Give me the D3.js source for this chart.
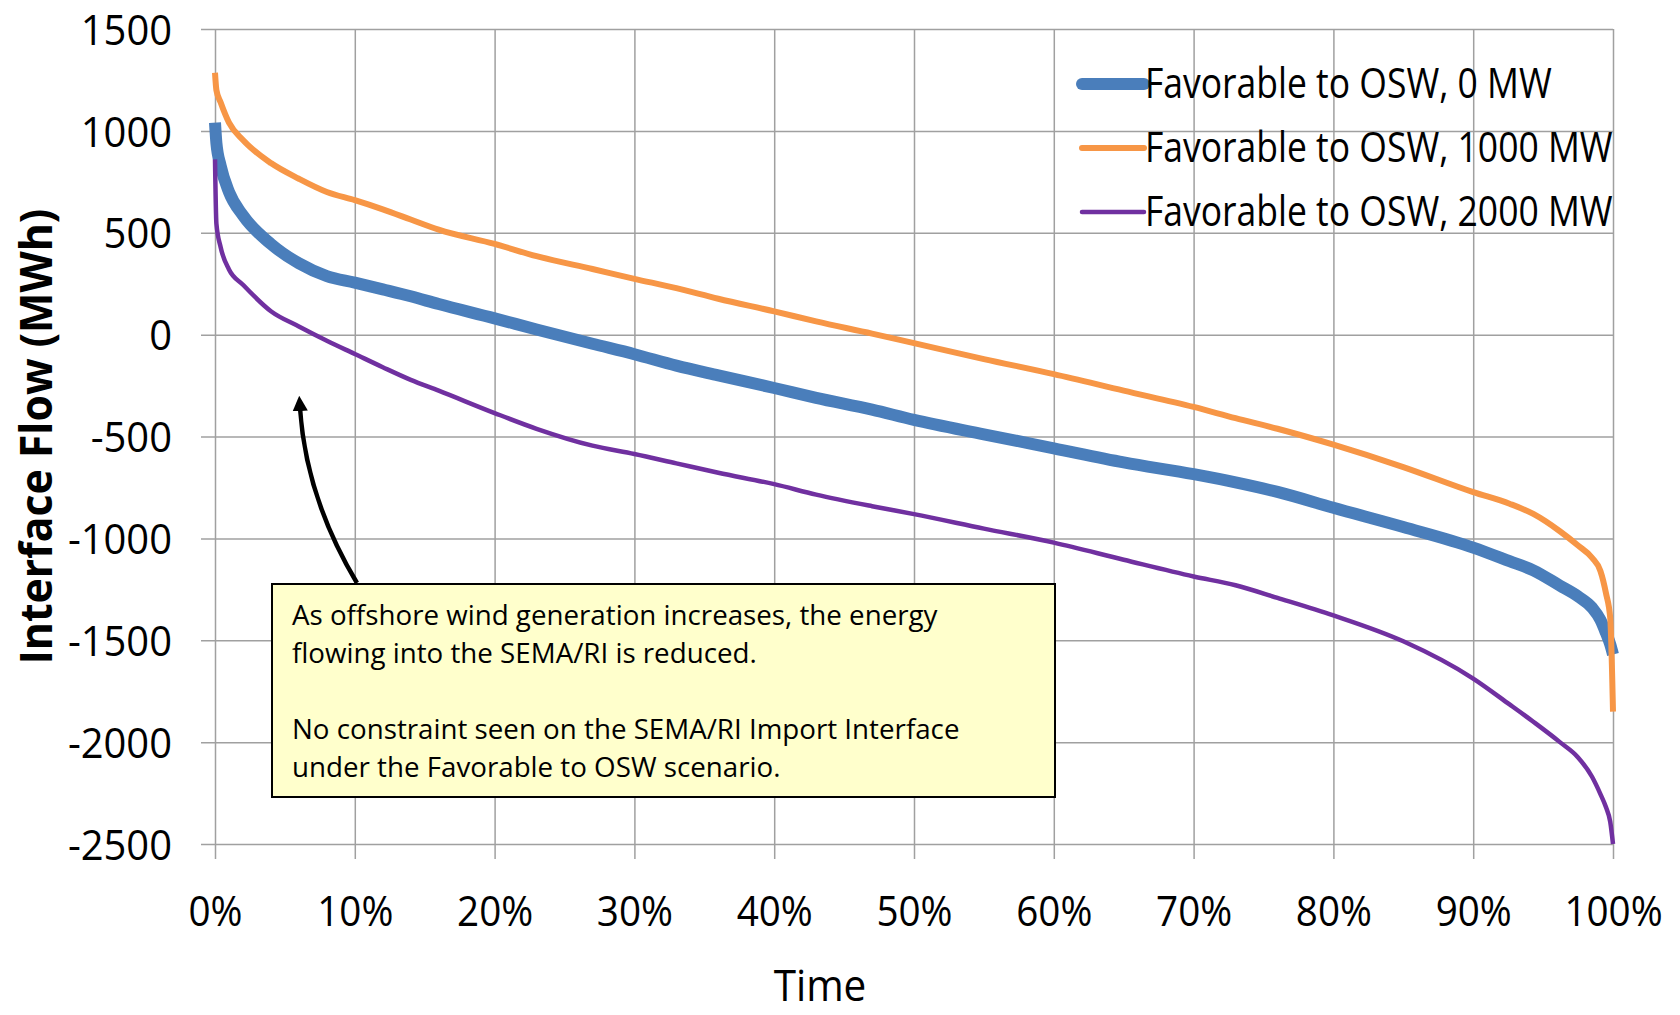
<!DOCTYPE html>
<html>
<head>
<meta charset="utf-8">
<script src="https://cdn.jsdelivr.net/npm/d3@7"></script>
<style>
  body { margin: 0; background: #fff; }
  text { font-family: "Open Sans", sans-serif; fill: #000; }
</style>
</head>
<body>
<svg id="chart" width="1680" height="1015"></svg>
<script>
// share of hours (%), sorted duration curve
const timePct = [0, 0.1, 0.4, 1, 2, 4, 6, 8, 10, 12, 14, 16, 20, 23, 27, 30, 33, 36, 40, 43, 47,
  50, 55, 60, 65, 70, 73, 76, 80, 85, 90, 92.6, 94.3, 96.2, 97.5, 98.5, 99.1, 99.5, 99.8, 100];

const flow0MW = [1040, 940, 830, 700, 585, 445, 350, 287, 255, 222, 188, 150, 80, 25, -45, -96, -152, -200, -262, -310, -368,
  -418, -489, -558, -627, -685, -725, -772, -850, -944, -1045, -1112, -1157, -1232, -1285, -1340, -1400, -1465, -1520, -1570];

const flow1000MW = [1285, 1200, 1140, 1040, 955, 842, 765, 700, 660, 615, 565, 515, 445, 385, 322, 274, 228, 176, 114, 65, 5,
  -42, -120, -194, -275, -355, -410, -462, -540, -650, -773, -830, -880, -965, -1035, -1095, -1160, -1270, -1390, -1850];

const flow2000MW = [860, 545, 430, 320, 245, 115, 40, -30, -95, -160, -222, -275, -385, -462, -545, -586, -632, -678, -734, -785, -842,
  -881, -952, -1021, -1105, -1187, -1230, -1292, -1378, -1505, -1688, -1815, -1900, -2000, -2075, -2170, -2255, -2320, -2390, -2500];

const seriesNames = ["Favorable to OSW, 0 MW", "Favorable to OSW, 1000 MW", "Favorable to OSW, 2000 MW"];
const seriesColors = ["#4a7ebb", "#f79646", "#7030a0"];
const seriesWidths = [12, 6, 4.5];

const yTicks = [-2500, -2000, -1500, -1000, -500, 0, 500, 1000, 1500];
const xTicks = [0, 10, 20, 30, 40, 50, 60, 70, 80, 90, 100];

const noteLines = [
  "As offshore wind generation increases, the energy",
  "flowing into the SEMA/RI is reduced.",
  "",
  "No constraint seen on the SEMA/RI Import Interface",
  "under the Favorable to OSW scenario."
];

const plotLeft = 215, plotRight = 1613, plotTop = 29, plotBottom = 844;
const gridColor = "#a0a0a0";

// the original font is narrower than Open Sans: squeeze text horizontally
function squeeze(sel, f) {
  sel.each(function() {
    const w = this.getComputedTextLength();
    if (w > 0) d3.select(this).attr("textLength", w * f).attr("lengthAdjust", "spacingAndGlyphs");
  });
}

// same idea for left-anchored text, done with a transform so its box shrinks too
function squeezeLeft(sel, f) {
  sel.each(function() {
    const x0 = +this.getAttribute("x");
    d3.select(this).attr("transform", `translate(${x0 * (1 - f)},0) scale(${f},1)`);
  });
}

const svg = d3.select("#chart");

const x = d3.scaleLinear().domain([0, 100]).range([plotLeft, plotRight]);
const y = d3.scaleLinear().domain([-2500, 1500]).range([plotBottom, plotTop]);

// horizontal grid + left ticks
const yAxis = svg.append("g")
  .attr("transform", `translate(${plotLeft - 14},0)`)
  .call(d3.axisLeft(y).tickValues(yTicks).tickSize(-(plotRight - plotLeft + 14)).tickPadding(29)
    .tickFormat(d => String(d)));
yAxis.attr("font-family", null).attr("font-size", null);
yAxis.select(".domain").remove();
yAxis.selectAll("line").attr("stroke", gridColor).attr("stroke-width", 1.5);
yAxis.selectAll("text")
  .attr("font-size", 42)
  .attr("dy", "0.36em")
  .call(squeeze, 0.95);

// vertical grid + bottom ticks
const xAxis = svg.append("g")
  .attr("transform", `translate(0,${plotTop})`)
  .call(d3.axisBottom(x).tickValues(xTicks).tickSize(plotBottom - plotTop + 15).tickFormat(d => d + "%"));
xAxis.attr("font-family", null).attr("font-size", null);
xAxis.select(".domain").remove();
xAxis.selectAll("line").attr("stroke", gridColor).attr("stroke-width", 1.5);
xAxis.selectAll("text")
  .attr("font-size", 42)
  .attr("y", 926 - plotTop)
  .attr("dy", null)
  .call(squeeze, 0.92);

// axis titles
svg.append("text")
  .attr("transform", `translate(36,${(plotTop + plotBottom) / 2}) rotate(-90)`)
  .attr("text-anchor", "middle")
  .attr("dy", "0.36em")
  .attr("font-size", 45)
  .attr("font-weight", "bold")
  .text("Interface Flow (MWh)")
  .call(squeeze, 0.95);

svg.append("text")
  .attr("x", 820)
  .attr("y", 1001)
  .attr("text-anchor", "middle")
  .attr("font-size", 44)
  .text("Time")
  .call(squeeze, 0.92);

// curves
const allSeries = [flow0MW, flow1000MW, flow2000MW];
const line = d3.line()
  .x((d, i) => x(timePct[i]))
  .y(d => y(d))
  .curve(d3.curveMonotoneX);

allSeries.forEach((values, k) => {
  svg.append("path")
    .datum(values)
    .attr("fill", "none")
    .attr("stroke", seriesColors[k])
    .attr("stroke-width", seriesWidths[k])
    .attr("stroke-linejoin", "round")
    .attr("d", line);
});

// legend
const legend = svg.append("g").attr("transform", "translate(1082,84)");
seriesNames.forEach((name, k) => {
  const g = legend.append("g").attr("transform", `translate(0,${k * 64})`);
  g.append("line")
    .attr("x1", 0).attr("x2", 62)
    .attr("stroke", seriesColors[k])
    .attr("stroke-width", seriesWidths[k])
    .attr("stroke-linecap", "round");
  g.append("text")
    .attr("x", 63)
    .attr("y", 14)
    .attr("font-size", 42)
    .text(name)
    .call(squeezeLeft, 0.845);
});

// note box with arrow
const note = svg.append("g");
note.append("rect")
  .attr("x", 272).attr("y", 584)
  .attr("width", 783).attr("height", 213)
  .attr("fill", "#ffffcc")
  .attr("stroke", "#000")
  .attr("stroke-width", 2);
note.selectAll("text.note")
  .data(noteLines.filter(d => d))
  .join("text")
  .attr("class", "note")
  .attr("x", 292)
  .attr("y", d => 625 + noteLines.indexOf(d) * 38)
  .attr("font-size", 28)
  .text(d => d)
  .call(squeezeLeft, 0.99);

svg.append("defs").append("marker")
  .attr("id", "head")
  .attr("viewBox", "0 0 10 10")
  .attr("refX", 2).attr("refY", 5)
  .attr("markerWidth", 3.4).attr("markerHeight", 3.4)
  .attr("orient", "auto")
  .append("path")
  .attr("d", "M0,0L10,5L0,10z")
  .attr("fill", "#000");

note.append("path")
  .attr("d", "M357,583 Q306,498 300,408")
  .attr("fill", "none")
  .attr("stroke", "#000")
  .attr("stroke-width", 4.5)
  .attr("marker-end", "url(#head)");
</script>
</body>
</html>
